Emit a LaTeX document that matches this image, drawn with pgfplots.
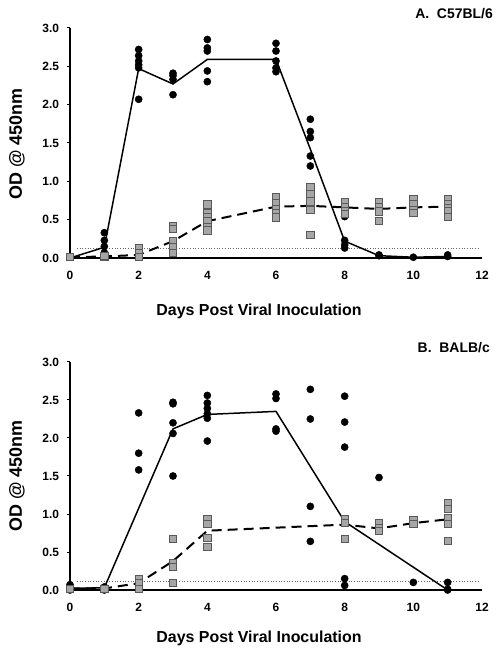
\documentclass[border=0pt]{standalone}
\usepackage{pgfplots}
\pgfplotsset{compat=1.18}
\usepackage{fontspec}
\setmainfont{Liberation Sans}
\begin{document}
\begin{tikzpicture}
\path[use as bounding box] (0bp,0bp) rectangle (501bp,654bp);
\pgfplotsset{
  panel/.style={
    scale only axis, width=412bp,
    xmin=0, xmax=12, ymin=0, ymax=3,
    axis lines*=left,
    axis line style={line width=1.6pt},
    xtick={0,2,...,12}, ytick={0,0.5,...,3},
    tick style={black, line width=1pt},
    tick align=outside, major tick length=3.5bp,
    xtick style={draw=none},
    /pgf/number format/assume math mode=true,
    ticklabel style={font=\bfseries\fontsize{12}{14}\selectfont},
    xticklabel style={yshift=-6bp},
    yticklabel style={xshift=-4bp, /pgf/number format/.cd, fixed, fixed zerofill, precision=1},
    clip=false,
  },
  circ/.style={only marks, mark=*, mark size=3.6bp, mark options={fill=black, draw=black}},
  sq/.style={only marks, mark=square*, mark size=3.6bp, mark options={fill=gray!70, draw=black!65, line width=0.6pt}},
  solidl/.style={black, line width=1.5pt, no marks},
  dashl/.style={black, line width=2pt, no marks, dash pattern=on 10bp off 6bp},
  dotl/.style={black!60, line width=0.7pt, dotted, no marks},
}
% ---------- Panel A ----------
\begin{axis}[panel, at={(70bp,396bp)}, anchor=origin, height=230bp]
\addplot[dotl] coordinates {(0.2,0.13)(11.9,0.13)};
\addplot[circ] coordinates {
(0,0.01)
(1,0.33)(1,0.23)(1,0.15)(1,0.07)
(2,2.72)(2,2.64)(2,2.57)(2,2.52)(2,2.48)(2,2.07)
(3,2.41)(3,2.38)(3,2.33)(3,2.13)
(4,2.85)(4,2.74)(4,2.70)(4,2.44)(4,2.30)
(6,2.80)(6,2.70)(6,2.57)(6,2.48)(6,2.43)
(7,1.81)(7,1.65)(7,1.57)(7,1.33)(7,1.20)
(8,0.54)(8,0.23)(8,0.17)(8,0.13)
(9,0.04)(9,0.03)
(10,0.01)
(11,0.04)(11,0.02)
};
\addplot[sq] coordinates {
(0,0.02)
(1,0.02)(1,0.03)
(2,0.13)(2,0.07)(2,0.02)
(3,0.42)(3,0.38)(3,0.22)(3,0.15)(3,0.07)
(4,0.70)(4,0.59)(4,0.54)(4,0.48)(4,0.41)(4,0.36)
(6,0.80)(6,0.72)(6,0.64)(6,0.59)(6,0.53)
(7,0.93)(7,0.83)(7,0.74)(7,0.63)(7,0.30)
(8,0.73)(8,0.67)(8,0.62)(8,0.58)
(9,0.73)(9,0.67)(9,0.61)(9,0.48)
(10,0.77)(10,0.71)(10,0.63)(10,0.59)
(11,0.77)(11,0.71)(11,0.65)(11,0.61)(11,0.54)
};
\addplot[solidl] coordinates {(0,0.0)(1,0.14)(2,2.47)(3,2.27)(4,2.59)(6,2.59)(7,1.42)(8,0.22)(9,0.03)(10,0.01)(11,0.02)};
\addplot[dashl] coordinates {(0,0.01)(1,0.02)(2,0.04)(3,0.22)(4,0.48)(6,0.67)(7,0.68)(8,0.66)(9,0.64)(10,0.66)(11,0.67)};
\end{axis}
% ---------- Panel B ----------
\begin{axis}[panel, at={(70bp,64bp)}, anchor=origin, height=228bp]
\addplot[dotl] coordinates {(0.2,0.12)(11.9,0.12)};
\addplot[circ] coordinates {
(0,0.07)(0,0.02)(0,0.0)
(1,0.04)(1,0.01)(1,0.0)
(2,2.33)(2,1.80)(2,1.58)
(3,2.47)(3,2.45)(3,2.20)(3,2.06)(3,1.50)
(4,2.56)(4,2.46)(4,2.39)(4,2.32)(4,2.26)(4,1.96)
(6,2.58)(6,2.52)(6,2.12)(6,2.09)
(7,2.64)(7,2.25)(7,1.10)(7,0.64)
(8,2.55)(8,2.21)(8,1.88)(8,0.15)(8,0.06)
(9,1.48)
(10,0.10)
(11,0.10)(11,0.01)(11,0.0)
};
\addplot[sq] coordinates {
(0,0.02)
(1,0.02)
(2,0.15)(2,0.09)(2,0.02)
(3,0.67)(3,0.35)(3,0.30)(3,0.09)
(4,0.93)(4,0.87)(4,0.69)(4,0.57)
(8,0.93)(8,0.88)(8,0.67)
(9,0.88)(9,0.82)(9,0.78)
(10,0.92)(10,0.87)
(11,1.15)(11,1.07)(11,0.95)(11,0.87)(11,0.65)
};
\addplot[solidl] coordinates {(0,0.02)(1,0.03)(3,2.12)(4,2.31)(6,2.35)(8,0.90)(11,0.0)};
\addplot[dashl] coordinates {(0,0.02)(1,0.02)(2,0.09)(3,0.38)(4,0.78)(8,0.86)(9,0.81)(10,0.88)(11,0.93)};
\end{axis}
% ---------- Texts ----------
\node[anchor=base east, inner sep=0pt, font=\bfseries\fontsize{14}{16}\selectfont] at (493bp,635bp) {A.\ \ C57BL/6};
\node[anchor=base east, inner sep=0pt, font=\bfseries\fontsize{14}{16}\selectfont] at (490bp,301bp) {B.\ \ BALB/c};
\node[anchor=base, inner sep=0pt, font=\bfseries\fontsize{16}{18}\selectfont] at (259bp,338bp) {Days Post Viral Inoculation};
\node[anchor=base, inner sep=0pt, font=\bfseries\fontsize{16}{18}\selectfont] at (259bp,12bp) {Days Post Viral Inoculation};
\node[rotate=90, font=\bfseries\fontsize{18}{20}\selectfont] at (17bp,510bp) {OD @ 450nm};
\node[rotate=90, font=\bfseries\fontsize{18}{20}\selectfont] at (17bp,178bp) {OD @ 450nm};
\end{tikzpicture}
\end{document}
